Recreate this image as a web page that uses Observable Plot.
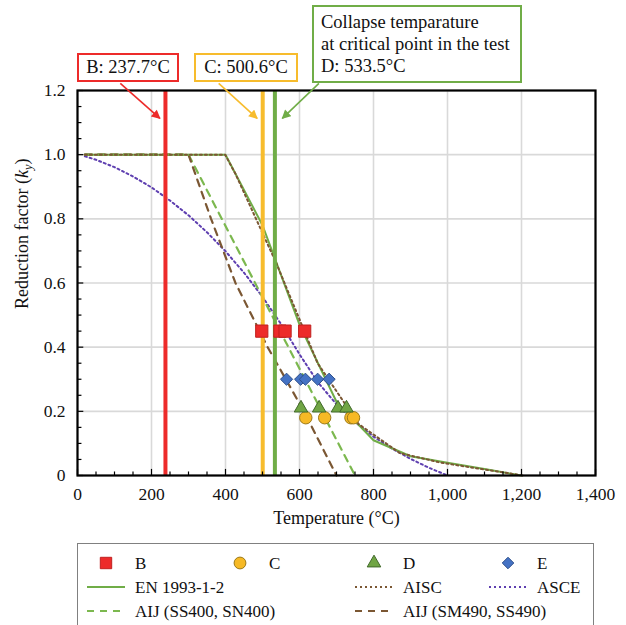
<!DOCTYPE html>
<html><head><meta charset="utf-8">
<script src="https://cdn.jsdelivr.net/npm/d3@7"></script>
<script src="https://cdn.jsdelivr.net/npm/@observablehq/plot@0.6"></script>
<style>
body{margin:0;background:#fff;font-family:"Liberation Serif","Times New Roman",serif;color:#111;}
#wrap{position:relative;width:626px;height:625px;overflow:hidden;background:#fff;}
#chart{position:absolute;left:0;top:0;}
.ann{position:absolute;box-sizing:border-box;background:#fff;font-size:18.5px;border:2px solid;white-space:nowrap;}
.ann.c{text-align:center;line-height:25px;}
.ann.l{text-align:left;line-height:22px;padding:4px 0 0 7px;}
#legend{position:absolute;left:77px;top:543px;width:517px;height:100px;box-sizing:border-box;border:1px solid #808080;background:#fff;}
</style></head>
<body><div id="wrap"><div id="chart"></div></div>
<script>
// ---- data ----
const enTemp   = [20,100,200,300,400,500,600,700,800,900,1000,1100,1200];
const enKy     = [1,1,1,1,1,0.78,0.47,0.23,0.11,0.06,0.04,0.02,0];
const aiscTemp = [20,93,204,316,399,427,538,649,760,871,982,1093,1204];
const aiscKy   = [1,1,1,1,1,0.94,0.66,0.35,0.16,0.07,0.04,0.02,0];
const asceTemp = [20,50,100,150,200,250,300,350,400,450,500,550,600,650,700,750,800,850,900,950,1000];
const asceKy   = [0.995,0.984,0.961,0.932,0.898,0.857,0.811,0.758,0.699,0.632,0.557,0.472,0.378,0.290,0.222,0.167,0.121,0.084,0.052,0.024,0];
const aij400Temp = [20,300,750];
const aij400Ky   = [1,1,0];
const aij490Temp = [20,300,361,427,514,612,700];
const aij490Ky   = [1,1,0.8,0.6,0.4,0.2,0];

const bTemp = [498,547,561,614];       const bKy = 0.45;
const cTemp = [617,668,739,746];       const cKy = 0.18;
const dTemp = [604,653,704,727];       const dKy = 0.21;
const eTemp = [565,603,616,649,680];   const eKy = 0.30;

const critLabels = ["B","C","D"];
const critTemps  = [237.7,500.6,533.5];

const xTickValues = [0,200,400,600,800,1000,1200,1400];
const yTickValues = [0,0.2,0.4,0.6,0.8,1.0,1.2];

// ---- styles ----
const cRed = "#ED2B2A", cOrange = "#F7BC2D", cGreen = "#70AD47";
const critColors = [cRed, cOrange, cGreen];
const brown = "#7B5733", purple = "#5E3FB0";
const serif = "'Liberation Serif','Times New Roman',serif";

const toRows = (T, K) => T.map((t,i)=>({t, k: Array.isArray(K) ? K[i] : K}));
const diamond = {draw(ctx, size){const r=Math.sqrt(size)*0.62625;ctx.moveTo(0,-r);ctx.lineTo(r,0);ctx.lineTo(0,r);ctx.lineTo(-r,0);ctx.closePath();}};

const xMinor = d3.range(0,1401,50).filter(v=>v%200!==0);
const yMinor = d3.range(0,1.2001,0.05).filter(v=>Math.abs(v/0.2-Math.round(v/0.2))>1e-6);
const crit = critTemps.map((t,i)=>({t, label:critLabels[i], color:critColors[i]}));
const arrowOff = [[-122,-15],[-119,-15],[119,20]];
const arrows = crit.map((d,i)=>({x1:d.t+arrowOff[i][0], x2:d.t+arrowOff[i][1], y1:1.222, y2:1.113, color:d.color}));

const plot = Plot.plot({
  width:626, height:535,
  marginLeft:77, marginRight:31, marginTop:90, marginBottom:60,
  style:{fontFamily:serif, fontSize:"17.5px", color:"#111", background:"transparent", overflow:"visible"},
  x:{domain:[0,1400]},
  y:{domain:[0,1.2]},
  marks:[
    Plot.gridX(xTickValues,{stroke:"#d9d9d9", strokeOpacity:1, strokeWidth:1.6}),
    Plot.gridY(yTickValues,{stroke:"#d9d9d9", strokeOpacity:1, strokeWidth:1.6}),
    Plot.line(toRows(asceTemp,asceKy),{x:"t",y:"k",stroke:purple,strokeWidth:2,strokeDasharray:"2,3"}),
    Plot.line(toRows(aij400Temp,aij400Ky),{x:"t",y:"k",stroke:"#7CB84F",strokeWidth:2.2,strokeDasharray:"7,6"}),
    Plot.line(toRows(aij490Temp,aij490Ky),{x:"t",y:"k",stroke:brown,strokeWidth:2.2,strokeDasharray:"7,6"}),
    Plot.line(toRows(enTemp,enKy),{x:"t",y:"k",stroke:cGreen,strokeWidth:2}),
    Plot.line(toRows(aiscTemp,aiscKy),{x:"t",y:"k",stroke:brown,strokeWidth:2,strokeDasharray:"2,3"}),
    Plot.ruleX(crit,{x:"t",y1:0,y2:1.2,stroke:"color",strokeWidth:4}),
    Plot.dot(toRows(bTemp,bKy),{x:"t",y:"k",symbol:"square",r:6.9,fill:cRed,stroke:"#C0201F",strokeWidth:1}),
    Plot.dot(toRows(cTemp,cKy),{x:"t",y:"k",symbol:"circle",r:6.2,fill:"#F6B925",stroke:"#9C7A1A",strokeWidth:1}),
    Plot.dot(toRows(dTemp,dKy),{x:"t",y:"k",symbol:"triangle",r:5,fill:"#70A544",stroke:"#41692A",strokeWidth:1}),
    Plot.dot(toRows(eTemp,eKy),{x:"t",y:"k",symbol:diamond,r:5.5,fill:"#4472C4",stroke:"#2D4F8A",strokeWidth:1}),
    Plot.ruleX(xMinor,{y1:0,y2:0.011,stroke:"#000",strokeWidth:1.2}),
    Plot.ruleX(xTickValues,{y1:0,y2:0.019,stroke:"#000",strokeWidth:1.2}),
    Plot.ruleY(yMinor,{x1:0,x2:12,stroke:"#000",strokeWidth:1.2}),
    Plot.ruleY(yTickValues,{x1:0,x2:17,stroke:"#000",strokeWidth:1.2}),
    Plot.frame({stroke:"#000",strokeWidth:2.2}),
    Plot.axisX(xTickValues,{tickSize:0,tickPadding:12,tickFormat:d3.format(","),label:null,fontSize:17.5}),
    Plot.axisY(yTickValues,{tickSize:0,tickPadding:12,tickFormat:d=>d===0?"0":d.toFixed(1),label:null,fontSize:17.5}),
    Plot.text(["Temperature (°C)"],{frameAnchor:"bottom",dy:43,fontSize:18,lineAnchor:"middle"}),
    Plot.text(["Reduction factor (ky)"],{frameAnchor:"left",dx:-55,dy:26,rotate:-90,fontSize:18,lineAnchor:"middle"}),
    Plot.link(arrows,{x1:"x1",y1:"y1",x2:"x2",y2:"y2",stroke:"color",strokeWidth:1.6})
  ]
});
document.getElementById("chart").appendChild(plot);

// arrowheads + subscript
const svg = d3.select(plot);
const defs = svg.append("defs");
critColors.forEach((c,i)=>{
  defs.append("marker").attr("id","ah"+i).attr("viewBox","0 0 10 10").attr("refX",9).attr("refY",5)
    .attr("markerWidth",10).attr("markerHeight",9).attr("markerUnits","userSpaceOnUse").attr("orient","auto")
    .append("path").attr("d","M0,0L10,5L0,10z").attr("fill",c);
});
svg.selectAll('g[aria-label="link"] path').each(function(d,i){ d3.select(this).attr("marker-end",`url(#ah${i})`); });
svg.selectAll("text").filter(function(){return this.textContent==="Reduction factor (ky)";})
  .each(function(){ this.innerHTML = 'Reduction factor (<tspan font-style="italic">k</tspan><tspan font-style="italic" font-size="12.5" dy="4">y</tspan><tspan dy="-4">)</tspan>'; });

// annotation boxes
const wrap = document.getElementById("wrap");
const annBoxes = [
  {text:"B: 237.7°C", color:cRed, cls:"c", left:77, top:53, w:102, h:29},
  {text:"C: 500.6°C", color:cOrange, cls:"c", left:194, top:53, w:104, h:29},
  {text:"Collapse temparature<br>at critical point in the test<br>D: 533.5°C", color:cGreen, cls:"l", left:312, top:5, w:210, h:78}
];
annBoxes.forEach(b=>{
  const el=document.createElement("div"); el.className="ann "+b.cls;
  Object.assign(el.style,{left:b.left+"px",top:b.top+"px",width:b.w+"px",height:b.h+"px",borderColor:b.color});
  el.innerHTML=b.text; wrap.appendChild(el);
});

// legend
const leg=document.createElement("div"); leg.id="legend"; wrap.appendChild(leg);
const ls=d3.select(leg).append("svg").attr("width",515).attr("height",98)
  .style("font-family",serif).style("font-size","17px");
const cols=[28,162,296,430], rows=[19,43,67];
const legendItems=[
  {label:"B",type:"sym",sym:d3.symbolSquare,size:130,fill:cRed,stroke:"#C0201F",c:0,r:0},
  {label:"C",type:"sym",sym:d3.symbolCircle,size:110,fill:"#F6B925",stroke:"#9C7A1A",c:1,r:0},
  {label:"D",type:"sym",sym:d3.symbolTriangle,size:80,fill:"#70A544",stroke:"#41692A",c:2,r:0},
  {label:"E",type:"sym",sym:diamond,size:85,fill:"#4472C4",stroke:"#2D4F8A",c:3,r:0},
  {label:"EN 1993-1-2",type:"line",stroke:cGreen,dash:null,c:0,r:1},
  {label:"AISC",type:"line",stroke:brown,dash:"2,3",c:2,r:1},
  {label:"ASCE",type:"line",stroke:purple,dash:"2,3",c:3,r:1},
  {label:"AIJ (SS400, SN400)",type:"line",stroke:"#7CB84F",dash:"7,6",c:0,r:2},
  {label:"AIJ (SM490, SS490)",type:"line",stroke:brown,dash:"7,6",c:2,r:2}
];
legendItems.forEach(it=>{
  const x=cols[it.c], y=rows[it.r];
  if(it.type==="sym"){
    ls.append("path").attr("d",d3.symbol(it.sym,it.size)()).attr("transform",`translate(${x},${y})`)
      .attr("fill",it.fill).attr("stroke",it.stroke).attr("stroke-width",1);
  } else {
    ls.append("line").attr("x1",x-19).attr("x2",x+19).attr("y1",y).attr("y2",y)
      .attr("stroke",it.stroke).attr("stroke-width",2).attr("stroke-dasharray",it.dash);
  }
  ls.append("text").attr("x",x+29).attr("y",y).attr("dy","0.35em").attr("fill","#111").text(it.label);
});
</script>
</body></html>
